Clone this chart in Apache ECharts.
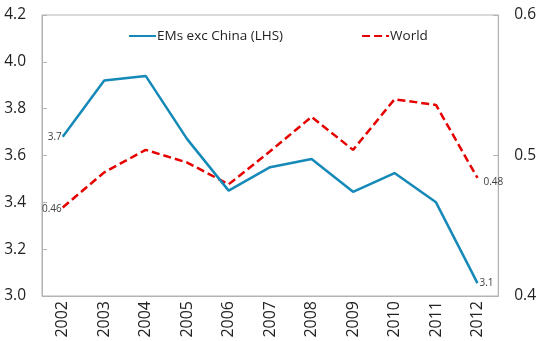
<!DOCTYPE html>
<html>
<head>
<meta charset="utf-8">
<script src="https://cdn.jsdelivr.net/npm/echarts@6/dist/echarts.min.js"></script>
<style>
html,body{margin:0;padding:0;background:#fff;}
#c{width:539px;height:341px;}
</style>
</head>
<body>
<div id="c"></div>
<script>
const years = ['2002','2003','2004','2005','2006','2007','2008','2009','2010','2011','2012'];
const emsExChina = [3.68, 3.92, 3.94, 3.67, 3.45, 3.55, 3.585, 3.445, 3.525, 3.40, 3.055];
const world = [0.463, 0.488, 0.504, 0.495, 0.4795, 0.503, 0.5275, 0.504, 0.540, 0.536, 0.484];
const leftTicks = [3.0, 4.2, 0.2];
const rightTicks = [0.4, 0.6, 0.1];
const seriesNames = ['EMs exc China (LHS)', 'World'];

const FONT = '"Open Sans", "Noto Sans", sans-serif';

function withEndLabels(values, decimals, firstOffset, lastOffset) {
  return values.map((v, i) => {
    if (i === 0 || i === values.length - 1) {
      return {
        value: v,
        label: {
          show: true,
          position: i === 0 ? 'left' : 'right',
          offset: i === 0 ? firstOffset : lastOffset,
          distance: 1,
          formatter: () => v.toFixed(decimals),
          fontSize: 10,
          color: '#404040',
          fontFamily: FONT
        }
      };
    }
    return v;
  });
}

const chart = echarts.init(document.getElementById('c'));
chart.setOption({
  animation: false,
  backgroundColor: '#fff',
  grid: {
    left: 42, right: 35, top: 15, bottom: 45,
    show: true, borderColor: '#b3b3b3', borderWidth: 1
  },
  legend: {
    top: 24, left: 123,
    itemWidth: 27, itemHeight: 14, itemGap: 78,
    textStyle: { fontSize: 13.5, color: '#222', fontFamily: FONT, padding: [0, 0, 0, -4] },
    itemStyle: { opacity: 0 },
    data: seriesNames
  },
  xAxis: {
    type: 'category',
    data: years,
    boundaryGap: true,
    axisLine: { lineStyle: { color: '#b3b3b3' } },
    axisTick: { inside: true, length: 5, lineStyle: { color: '#b3b3b3' } },
    axisLabel: { rotate: 90, fontSize: 16, color: '#222', fontFamily: FONT, margin: 5 }
  },
  yAxis: [{
    type: 'value',
    min: leftTicks[0], max: leftTicks[1], interval: leftTicks[2],
    splitLine: { show: false },
    axisLine: { show: true, lineStyle: { color: '#b3b3b3' } },
    axisTick: { show: true, inside: true, length: 5, lineStyle: { color: '#b3b3b3' } },
    axisLabel: { formatter: v => v.toFixed(1), fontSize: 15.5, color: '#222', fontFamily: FONT, margin: 16 }
  }, {
    type: 'value',
    min: rightTicks[0], max: rightTicks[1], interval: rightTicks[2],
    splitLine: { show: false },
    axisLine: { show: true, lineStyle: { color: '#b3b3b3' } },
    axisTick: { show: true, inside: true, length: 5, lineStyle: { color: '#b3b3b3' } },
    axisLabel: { formatter: v => v.toFixed(1), fontSize: 15.5, color: '#222', fontFamily: FONT, margin: 16 }
  }],
  series: [{
    name: seriesNames[0],
    type: 'line',
    yAxisIndex: 0,
    data: withEndLabels(emsExChina, 1, [0, 0], [1, 0]),
    symbol: 'circle', symbolSize: 0,
    itemStyle: { color: '#1589b8' },
    lineStyle: { color: '#1589b8', width: 2.5 },
    z: 3
  }, {
    name: seriesNames[1],
    type: 'line',
    yAxisIndex: 1,
    data: withEndLabels(world, 2, [0, 2], [5, 4]),
    symbol: 'circle', symbolSize: 0,
    itemStyle: { color: '#e60000' },
    lineStyle: { color: '#e60000', width: 2.5, type: [8, 4] },
    z: 2
  }]
});
</script>
</body>
</html>
